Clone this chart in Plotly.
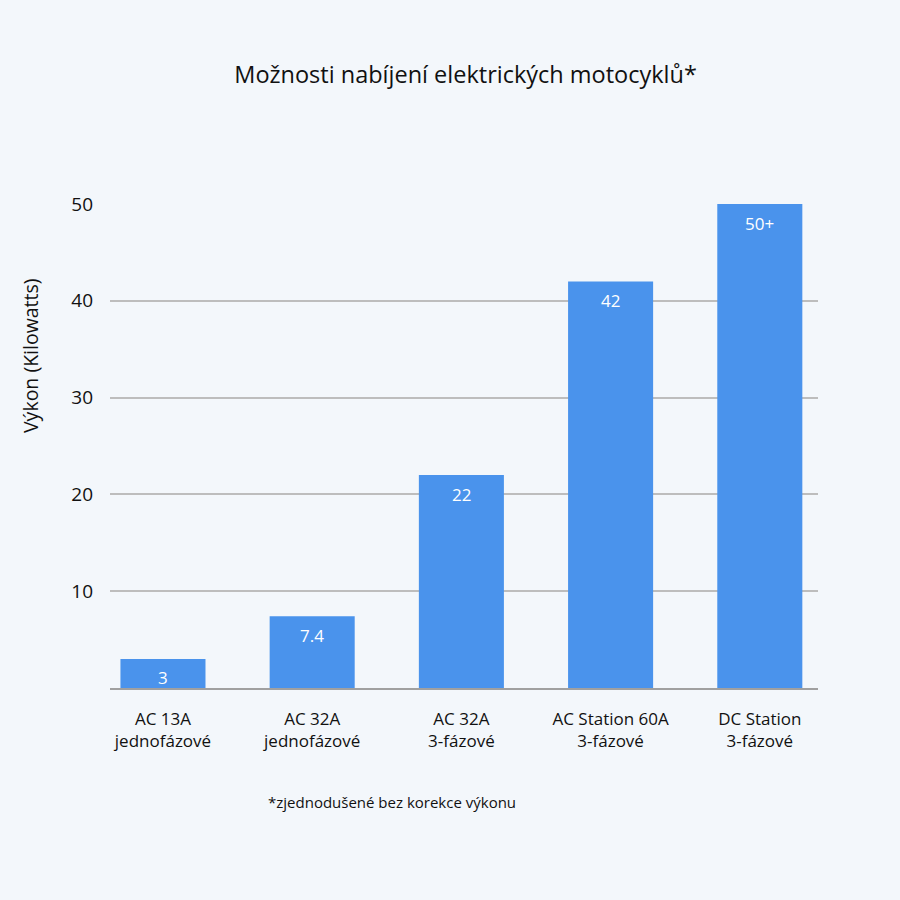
import plotly.graph_objects as go

# data
categories = [
    "AC 13A<br>jednofázové",
    "AC 32A<br>jednofázové",
    "AC 32A<br>3-fázové",
    "AC Station 60A<br>3-fázové",
    "DC Station<br>3-fázové",
]
power_kw = [3, 7.4, 22, 42, 50]
power_labels = ["3", "7.4", "22", "42", "50+"]
y_ticks = [10, 20, 30, 40, 50]

BG = "#f3f7fb"
BAR = "#4a93ec"
FONT = "Open Sans"
INK = "#111111"

fig = go.Figure()

fig.add_trace(
    go.Bar(
        x=categories,
        y=power_kw,
        marker={"color": BAR, "line": {"width": 0}},
        hoverinfo="x+y",
    )
)

# value labels sit a bit below the top of each bar
for cat, val, lab in zip(categories, power_kw, power_labels):
    fig.add_annotation(
        x=cat, y=val, text=lab, showarrow=False,
        yanchor="middle", yshift=-19,
        font={"family": FONT, "size": 17, "color": "white"},
    )

# y axis title sits above the middle of the axis in the original
fig.add_annotation(
    x=-0.113, xref="paper", y=0.688, yref="paper",
    xanchor="center", yanchor="middle", textangle=-90,
    text="Výkon (Kilowatts)", showarrow=False,
    font={"family": FONT, "size": 19.5, "color": INK},
)

# footnote under the chart
fig.add_annotation(
    x=0.398, xref="paper", y=-0.236, yref="paper",
    xanchor="center", yanchor="middle",
    text="*zjednodušené bez korekce výkonu", showarrow=False,
    font={"family": FONT, "size": 15, "color": INK},
)

fig.update_layout(
    width=892,
    height=892,
    paper_bgcolor=BG,
    plot_bgcolor=BG,
    showlegend=False,
    bargap=0.43,
    margin={"l": 102, "r": 82, "t": 196, "b": 212, "pad": 0},
    title={
        "text": "Možnosti nabíjení elektrických motocyklů*",
        "x": 0.513, "xanchor": "center",
        "y": 1 - 67 / 892, "yanchor": "middle",
        "font": {"family": FONT, "size": 23.5, "color": INK},
    },
    font={"family": FONT, "color": INK},
)

fig.update_xaxes(
    type="category",
    range=[-0.355, 4.39],
    showgrid=False,
    showline=True,
    linecolor="#a0a0a0",
    linewidth=1.5,
    ticks="",
    tickfont={"family": FONT, "size": 17, "color": INK},
    ticklabelstandoff=15,
)

fig.update_yaxes(
    range=[0, 50],
    tickvals=y_ticks,
    ticktext=[str(t) for t in y_ticks],
    showgrid=True,
    gridcolor="#bdbdbd",
    gridwidth=1.5,
    zeroline=False,
    showline=False,
    ticks="",
    tickfont={"family": FONT, "size": 19, "color": INK},
    ticklabelstandoff=16,
)

# page margin around the figure gets the same background
fig.write_html(
    "out.html",
    post_script=f"document.body.style.background = '{BG}';",
)
